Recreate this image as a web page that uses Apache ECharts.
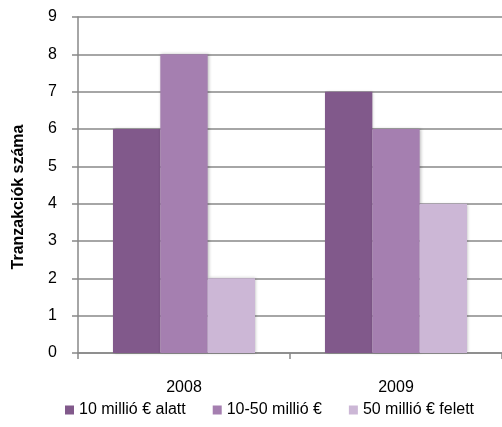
<!DOCTYPE html>
<html>
<head>
<meta charset="utf-8">
<script src="https://cdn.jsdelivr.net/npm/echarts@6/dist/echarts.min.js"></script>
<style>
  html, body { margin: 0; padding: 0; background: #fff; }
  #chart { width: 502px; height: 427px; }
</style>
</head>
<body>
<div id="chart"></div>
<script>
// Transaction counts by deal size
var years = ['2008', '2009'];
var seriesNames = ['10 millió € alatt', '10-50 millió €', '50 millió € felett'];
var under10 = [6, 7];
var from10to50 = [8, 6];
var over50 = [2, 4];
var seriesColors = ['#81598B', '#A57FB0', '#CCB7D6'];
var yTicks = { min: 0, max: 9, interval: 1 };
var yTitle = 'Tranzakciók száma';

var font = 'Liberation Sans, Arial, sans-serif';
var values = [under10, from10to50, over50];

var chart = echarts.init(document.getElementById('chart'), null, { renderer: 'canvas' });
chart.setOption({
  animation: false,
  backgroundColor: '#ffffff',
  grid: { left: 78, right: 0, top: 17, bottom: 74, containLabel: false },
  legend: {
    left: 60,
    top: 397,
    itemWidth: 9,
    itemHeight: 9,
    itemGap: 27,
    icon: 'rect',
    textStyle: { fontFamily: font, fontSize: 16, color: '#000' },
    data: seriesNames
  },
  xAxis: {
    type: 'category',
    data: years,
    axisLine: { lineStyle: { color: '#888888', width: 1.5 } },
    axisTick: { show: true, length: 6, lineStyle: { color: '#888888', width: 1.5 } },
    axisLabel: { fontFamily: font, fontSize: 16, color: '#000', margin: 27 }
  },
  yAxis: {
    type: 'value',
    min: yTicks.min,
    max: yTicks.max,
    interval: yTicks.interval,
    name: yTitle,
    nameLocation: 'middle',
    nameGap: 51,
    nameTextStyle: {
      fontFamily: font, fontSize: 16, fontWeight: 'bold', color: '#000',
      padding: [0, 24, 0, 0]
    },
    axisLine: { show: true, lineStyle: { color: '#888888', width: 1.5 } },
    axisTick: { show: true, length: 6, lineStyle: { color: '#888888', width: 1.5 } },
    axisLabel: { fontFamily: font, fontSize: 16, color: '#000', margin: 21 },
    splitLine: { lineStyle: { color: '#888888', width: 1.5 } }
  },
  series: seriesNames.map(function (name, i) {
    return {
      name: name,
      type: 'bar',
      data: values[i],
      barGap: '0%',
      barCategoryGap: '33%',
      itemStyle: {
        color: seriesColors[i],
        shadowColor: 'rgba(0,0,0,0.25)',
        shadowBlur: 3,
        shadowOffsetX: 1,
        shadowOffsetY: 0
      }
    };
  })
});
</script>
</body>
</html>
